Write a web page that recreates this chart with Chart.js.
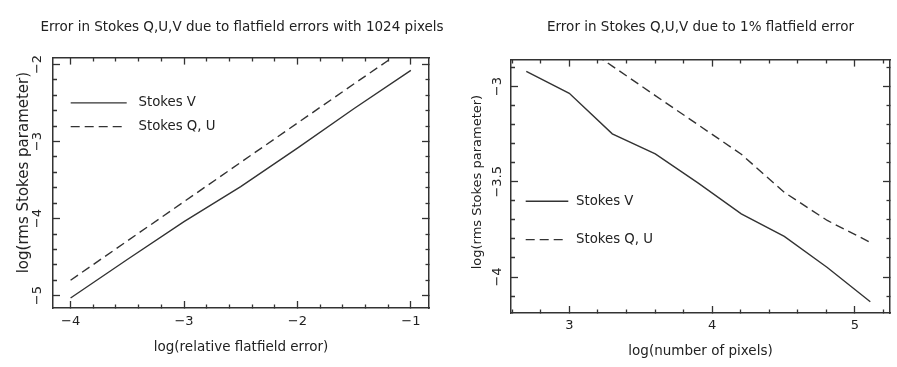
<!DOCTYPE html>
<html><head><meta charset="utf-8">
<script src="https://cdn.jsdelivr.net/npm/chart.js@4.4.1/dist/chart.umd.min.js"></script>
<style>
html,body{margin:0;padding:0;background:#fff;}
#wrap{position:relative;width:897px;height:367px;overflow:hidden;background:#fff;}
canvas{position:absolute;top:0;}
#c1{left:0;} #c2{left:448px;}
</style></head><body>
<div id="wrap"><canvas id="c1" width="484" height="367"></canvas><canvas id="c2" width="449" height="367"></canvas></div>
<script>
// ---- data ----
const seriesLabels = ['Stokes V', 'Stokes Q, U'];

// left panel: log(relative flatfield error) vs log(rms Stokes parameter), 1024 pixels
const errX  = [-4, -3.5, -3, -2.5, -2, -1.5, -1];
const errV  = [-5.03, -4.53, -4.04, -3.585, -3.085, -2.57, -2.075];
const errQU = [-4.80, -4.29, -3.78, -3.27, -2.76, -2.25, -1.745];

// right panel: log(number of pixels) vs log(rms Stokes parameter), 1% flatfield error
const pixX  = [2.699, 3.0, 3.301, 3.602, 3.903, 4.204, 4.505, 4.806, 5.107];
const pixV  = [-2.92, -3.035, -3.248, -3.353, -3.507, -3.668, -3.787, -3.95, -4.13];
const pixQU = [-2.59, -2.74, -2.892, -3.047, -3.201, -3.355, -3.555, -3.703, -3.818];

// labelled (major) tick values
const errXTicks = [-4, -3, -2, -1];
const errYTicks = [-5, -4, -3, -2];
const pixXTicks = [3, 4, 5];
const pixYTicks = [-4, -3.5, -3];

const titles = ['Error in Stokes Q,U,V due to flatfield errors with 1024 pixels',
                'Error in Stokes Q,U,V due to 1% flatfield error'];
const xTitles = ['log(relative flatfield error)', 'log(number of pixels)'];
const yTitle = 'log(rms Stokes parameter)';

// ---- rendering ----
const INK = '#333';
const TXT = '#222';
const FAM = "'DejaVu Sans', sans-serif";
Chart.defaults.font.family = FAM;
Chart.defaults.color = TXT;

const fmt = v => (v < 0 ? '\u2212' : '') + String(Math.abs(Math.round(v * 1000) / 1000));
const isIn = (v, arr) => arr.some(t => Math.abs(t - v) < 1e-6);

function axisOpts(o) {
  const horiz = (o.pos === 'top' || o.pos === 'bottom');
  const inner = (o.pos === 'top' || o.pos === 'left');
  return {
    type: 'linear', position: o.pos, axis: horiz ? 'x' : 'y', min: o.min, max: o.max,
    ticks: {
      stepSize: o.step, includeBounds: false, autoSkip: false, maxRotation: 0, minRotation: 0,
      display: !!o.labels, padding: o.tickPad || 0, color: TXT, font: {size: 13},
      callback: v => isIn(v, o.major) ? fmt(v) : ''
    },
    grid: {
      display: true, drawOnChartArea: false, drawTicks: true, tickLength: -7,
      tickColor: INK, tickWidth: 1.3,
      tickBorderDash: ctx => (ctx.tick && isIn(ctx.tick.value, o.major)) ? [] : (inner ? [0, 3, 4, 100] : [4, 100])
    },
    border: {display: true, color: INK, width: 1.5},
    title: o.title ? {display: true, text: o.title, color: TXT, font: {size: o.titleSize}, padding: o.titlePad} : {display: false},
    afterFit: s => { if (horiz) s.height = o.size; else s.width = o.size; }
  };
}

// rotated y tick labels and rotated y-axis title (PGPLOT style)
const rotY = {
  id: 'rotY',
  afterDraw(chart, args, opts) {
    const s = chart.scales.y, ctx = chart.ctx, a = chart.chartArea;
    ctx.save();
    ctx.fillStyle = TXT;
    ctx.textAlign = 'center';
    ctx.textBaseline = 'middle';
    ctx.font = '13px ' + FAM;
    opts.values.forEach(v => {
      ctx.save();
      ctx.translate(a.left - opts.offset, s.getPixelForValue(v));
      ctx.rotate(-Math.PI / 2);
      ctx.fillText(fmt(v), 0, 0);
      ctx.restore();
    });
    ctx.font = opts.titleSize + 'px ' + FAM;
    ctx.translate(a.left - opts.titleX, a.top + opts.titleY);
    ctx.rotate(-Math.PI / 2);
    ctx.fillText(opts.title, 0, 0);
    ctx.restore();
  }
};

const lineLegend = {
  id: 'lineLegend',
  afterDraw(chart, args, o) {
    const ctx = chart.ctx, a = chart.chartArea;
    chart.data.datasets.forEach((ds, i) => {
      const y = a.top + o.ys[i];
      ctx.save();
      ctx.strokeStyle = ds.borderColor;
      ctx.lineWidth = ds.borderWidth;
      ctx.setLineDash(ds.borderDash || []);
      ctx.beginPath();
      ctx.moveTo(a.left + o.x, y);
      ctx.lineTo(a.left + o.x + o.lens[i], y);
      ctx.stroke();
      ctx.setLineDash([]);
      ctx.fillStyle = TXT;
      ctx.font = '13.3px ' + FAM;
      ctx.textAlign = 'left';
      ctx.textBaseline = 'middle';
      ctx.fillText(ds.label, a.left + o.textX, y);
      ctx.restore();
    });
  }
};

function build(id, d) {
  return new Chart(document.getElementById(id), {
    type: 'line',
    data: {
      datasets: [
        {label: seriesLabels[0], data: d.x.map((x, i) => ({x, y: d.v[i]})),
         borderColor: INK, borderWidth: 1.4, pointRadius: 0, tension: 0, fill: false},
        {label: seriesLabels[1], data: d.x.map((x, i) => ({x, y: d.qu[i]})),
         borderColor: INK, borderWidth: 1.4, borderDash: [9, 5], pointRadius: 0, tension: 0, fill: false}
      ]
    },
    options: {
      responsive: false, animation: false, devicePixelRatio: 1,
      layout: {padding: {left: 0, right: d.padRight, top: 0, bottom: 0}},
      plugins: {
        legend: {display: false}, tooltip: {enabled: false},
        title: {display: true, text: d.title, fullSize: d.titleFull, color: TXT,
                font: {size: 13.5, weight: 'normal'}, padding: {top: 19.2, bottom: d.titleBottom}},
        rotY: {values: d.yMajor, offset: d.yLabOff, title: yTitle, titleSize: d.yTitleSize,
               titleX: d.yTitleX, titleY: d.yTitleY},
        lineLegend: d.legend
      },
      scales: {
        x: axisOpts({pos: 'bottom', min: d.xmin, max: d.xmax, step: d.xStep, major: d.xMajor, labels: true,
                     tickPad: d.xTickPad, title: d.xTitle, titleSize: 13.5, titlePad: {top: 0, bottom: d.xTitlePad}, size: d.xSize}),
        x2: axisOpts({pos: 'top', min: d.xmin, max: d.xmax, step: d.xStep, major: d.xMajor, size: 0}),
        y: axisOpts({pos: 'left', min: d.ymin, max: d.ymax, step: d.yStep, major: d.yMajor, size: d.ySize}),
        y2: axisOpts({pos: 'right', min: d.ymin, max: d.ymax, step: d.yStep, major: d.yMajor, size: d.y2Size})
      }
    },
    plugins: [rotY, lineLegend]
  });
}

build('c1', {
  x: errX, v: errV, qu: errQU, title: titles[0], xTitle: xTitles[0],
  xmin: -4.155, xmax: -0.84, ymin: -5.16, ymax: -1.91, xStep: 0.2, yStep: 0.2,
  xMajor: errXTicks, yMajor: errYTicks,
  padRight: 0, y2Size: 55, titleFull: true, titleBottom: 22.2, xSize: 59, ySize: 53,
  xTickPad: 12.7, xTitlePad: 11.2, yLabOff: 15,
  yTitleSize: 15, yTitleX: 29, yTitleY: 115,
  legend: {x: 17.7, lens: [56, 51], textX: 85.5, ys: [45.3, 69]}
});

build('c2', {
  x: pixX, v: pixV, qu: pixQU, title: titles[1], xTitle: xTitles[1],
  xmin: 2.592, xmax: 5.245, ymin: -4.189, ymax: -2.858, xStep: 0.2, yStep: 0.1,
  xMajor: pixXTicks, yMajor: pixYTicks,
  padRight: 7, y2Size: 0, titleFull: false, titleBottom: 24.2, xSize: 54, ySize: 63,
  xTickPad: 11.7, xTitlePad: 7.5, yLabOff: 13.5,
  yTitleSize: 13, yTitleX: 33, yTitleY: 122.5,
  legend: {x: 14.7, lens: [42.6, 37], textX: 65, ys: [141.7, 180]}
});
</script>
</body></html>
